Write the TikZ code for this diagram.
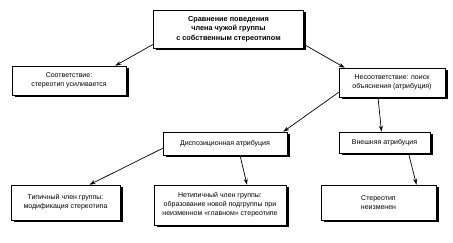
\documentclass[tikz,border=0pt]{standalone}
\usepackage{fontspec}
\setmainfont{Liberation Sans}
\usetikzlibrary{shadows,arrows.meta}
\begin{document}
\begin{tikzpicture}[x=1pt,y=-1pt,
  box/.style={draw=black, line width=0.6pt, fill=white, inner sep=1pt, align=center,
    font=\fontsize{7}{9}\selectfont,
    drop shadow={shadow xshift=2.5pt, shadow yshift=-2.5pt, fill=black, opacity=1}},
  conn/.style={-{Stealth[length=6pt,width=4pt]}, line width=0.7pt}]
\useasboundingbox (0,0) rectangle (453,243);
\node[box, minimum width=150pt, minimum height=38pt, font=\bfseries\fontsize{7.3}{9.5}\selectfont] (top) at (228.5,29)
  {Сравнение поведения\\члена чужой группы\\с собственным стереотипом};
\node[box, minimum width=114pt, minimum height=29pt] (left) at (69,80.5)
  {Соответствие:\\стереотип усиливается};
\node[box, minimum width=106pt, minimum height=29pt] (nes) at (392,82.5)
  {Несоответствие: поиск\\объяснения (атрибуция)};
\node[box, minimum width=124pt, minimum height=23pt] (disp) at (225,143.5)
  {Диспозиционная атрибуция};
\node[box, minimum width=91pt, minimum height=21pt] (ext) at (384.5,142.5)
  {Внешняя атрибуция};
\node[box, minimum width=109pt, minimum height=35pt] (typ) at (65.5,202.5)
  {Типичный член группы:\\модификация стереотипа};
\node[box, minimum width=132pt, minimum height=40pt] (atyp) at (220,205)
  {Нетипичный член группы:\\образование новой подгруппы при\\неизменном «главном» стереотипе};
\node[box, minimum width=115pt, minimum height=35pt] (ster) at (378.5,202.5)
  {Стереотип\\неизменен};
\draw[conn] ([yshift=4pt]top.south west) -- ([xshift=-11pt]left.north east);
\draw[conn] ([yshift=4pt]top.south east) -- ([xshift=6pt]nes.north west);
\draw[conn] ([yshift=5pt]nes.south west) -- ([xshift=-4pt]disp.north east);
\draw[conn] ([xshift=-14pt]nes.south) -- ([xshift=-3pt]ext.north);
\draw[conn] ([yshift=7pt]disp.south west) -- ([xshift=24pt]typ.north);
\draw[conn] ([xshift=15pt]disp.south) -- ([xshift=27pt]atyp.north);
\draw[conn] ([xshift=24pt]ext.south) -- ([xshift=38pt]ster.north);
\end{tikzpicture}
\end{document}
